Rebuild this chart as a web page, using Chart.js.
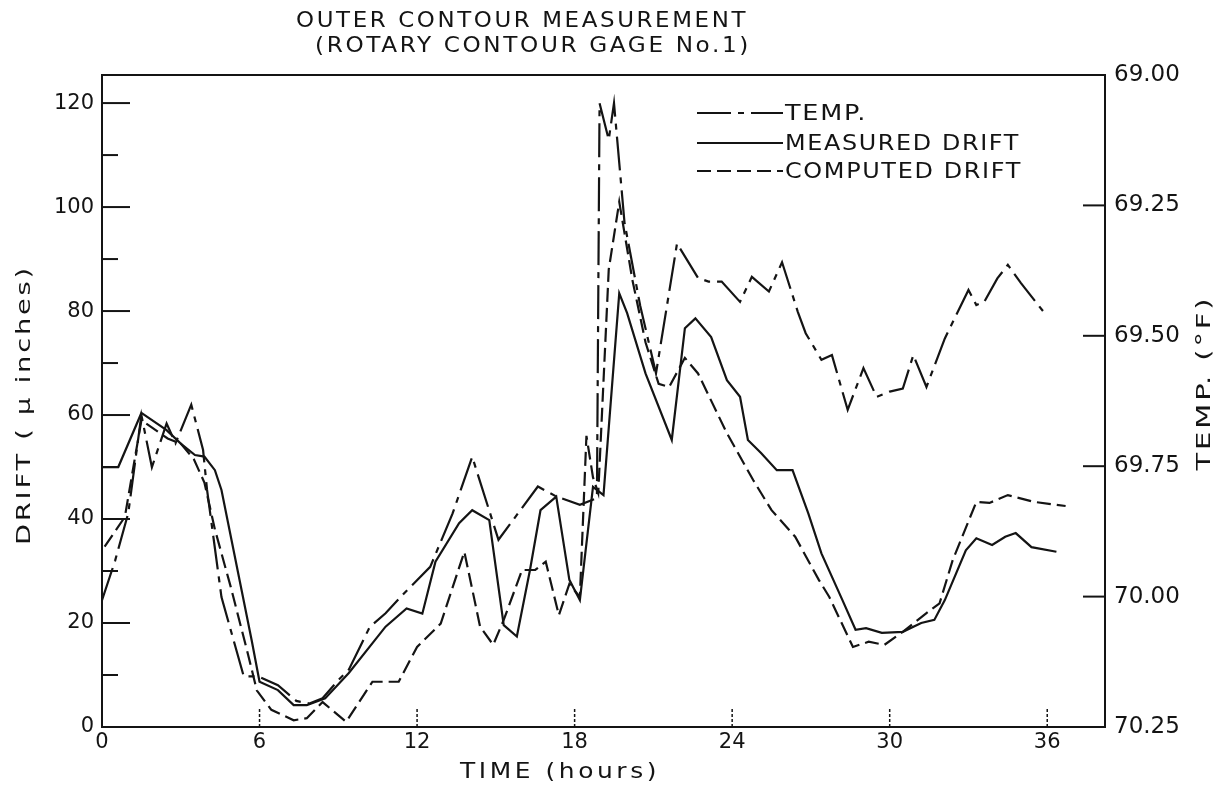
<!DOCTYPE html>
<html><head><meta charset="utf-8">
<style>html,body{margin:0;padding:0;background:#fff}#wrap{width:1226px;height:788px}</style>
<script src="https://cdn.jsdelivr.net/npm/chart.js@4.4.0/dist/chart.umd.min.js"></script>
</head><body><div id="wrap"><canvas id="c" width="1226" height="788"></canvas></div>
<script>
// ---- data ----
const tempHours = [0,0.5,1.0,1.5,1.9,2.46,2.8,3.4,3.85,4.0,4.55,5.4,5.95,6.7,7.4,7.9,8.4,9.0,9.4,10.2,10.8,11.5,12.5,13.35,14.1,15.1,16.6,17.3,18.2,18.85,18.95,19.3,19.5,19.9,20.5,21.1,21.9,22.7,23.1,23.6,24.3,24.75,25.4,25.9,26.5,26.8,27.4,27.8,28.4,29.0,29.5,30.0,30.5,30.9,31.4,32.1,33.0,33.3,33.6,34.1,34.5,35.0,36.0];
const tempF = [70.007,69.931,69.840,69.652,69.752,69.668,69.706,69.632,69.719,69.795,70.001,70.153,70.153,70.170,70.200,70.205,70.195,70.160,70.140,70.058,70.032,69.994,69.943,69.841,69.732,69.891,69.789,69.808,69.824,69.811,69.054,69.124,69.054,69.283,69.443,69.572,69.323,69.389,69.396,69.396,69.435,69.387,69.415,69.359,69.454,69.495,69.546,69.537,69.642,69.562,69.617,69.607,69.601,69.537,69.598,69.505,69.412,69.441,69.435,69.390,69.364,69.399,69.463];

const measuredHours = [0,0.62,1.5,2.46,3.0,3.54,3.9,4.3,4.55,5.7,6.0,6.7,7.3,7.8,8.5,9.4,10.8,11.6,12.2,12.7,13.6,14.1,14.75,15.3,15.8,16.3,16.7,17.3,17.8,18.2,18.7,19.1,19.7,20.0,20.7,21.7,22.2,22.6,23.2,23.8,24.3,24.6,25.1,25.7,26.3,26.9,27.4,28.2,28.7,29.1,29.7,30.5,31.2,31.7,32.1,32.9,33.3,33.9,34.4,34.8,35.4,36.35];
const measuredDrift = [50,50,60.4,57.1,54.5,52.3,52,49.4,45.6,16.7,8.7,7.1,4.2,4.2,5.5,10.4,19.3,22.8,21.8,31.8,39.2,41.7,39.8,19.6,17.4,30.2,41.7,44.3,28.3,24.4,46.2,44.6,83.4,79.6,68,55.2,76.7,78.6,75,66.7,63.5,55.2,52.7,49.4,49.4,41.1,33.4,24.4,18.7,19,18.1,18.3,20,20.6,24.4,34,36.3,35,36.6,37.3,34.6,33.7];

const computedHours = [0.1,0.87,1.5,2.5,3.0,3.5,3.9,4.3,4.9,5.55,5.9,6.45,7.3,7.8,8.4,9.3,10.3,11.3,12.0,12.9,13.8,14.4,14.9,15.3,16.0,16.5,16.9,17.4,17.8,18.2,18.45,18.7,18.9,19.3,19.7,20.2,20.7,21.2,21.6,22.2,22.7,23.8,24.8,25.5,26.4,27.3,27.7,28.6,29.2,29.8,30.5,31.4,31.9,32.4,33.3,33.8,34.5,35.5,36.7];
const computedDrift = [34.7,40.4,59,55.5,54.5,51.5,47,38,27,14.2,7,3.3,1.3,1.7,4.8,1,8.7,8.7,15.4,19.9,33.7,19.3,15.8,20.6,30.2,30.2,31.8,21.5,27.5,25,56,48,45,88,101,86,74,66,65.4,71,68,56.5,47.5,41.7,36.6,28.3,25,15.4,16.4,15.8,18.3,21.9,23.8,32.1,43.3,43.1,44.6,43.3,42.5];

const timeTicks = [0,6,12,18,24,30,36];
const driftTicks = [0,20,40,60,80,100,120];
const driftMinorTicks = [10,30,50,70,90,110];
const tempTicks = [69.00,69.25,69.50,69.75,70.00,70.25];

const seriesNames = ['TEMP.','MEASURED DRIFT','COMPUTED DRIFT'];
const chartTitle = ['OUTER CONTOUR MEASUREMENT','(ROTARY CONTOUR GAGE No.1)'];
const xTitle = 'TIME (hours)';
const yLeftTitle = 'DRIFT ( \u03BC inches)';
const yRightTitle = 'TEMP. (\u00B0F)';

// ---- styles ----
const INK = '#141414';
const FONT = '"DejaVu Sans", "Liberation Sans", sans-serif';
const dashTemp = [34,7,6,7];
const dashComputed = [14,6];

const toPts = (xs, ys) => xs.map((x,i)=>({x, y: ys[i]}));

// draw text scaled horizontally to a target width
function fitText(ctx, txt, x, y, width, size, align, spacing){
  ctx.font = size + 'px ' + FONT;
  ctx.letterSpacing = (spacing||0) + 'px';
  const w = ctx.measureText(txt).width;
  const s = width / w;
  ctx.save();
  ctx.translate(x, y); ctx.scale(s, 1);
  ctx.textAlign = align; ctx.textBaseline = 'middle';
  ctx.fillText(txt, 0, 0);
  ctx.restore();
  ctx.letterSpacing = '0px';
}

const decor = {
  id:'decor',
  afterDatasetsDraw(chart){
    const {ctx, chartArea:a, scales} = chart;
    ctx.save();
    ctx.strokeStyle = INK; ctx.fillStyle = INK; ctx.lineWidth = 2; ctx.setLineDash([]);
    ctx.strokeRect(a.left, a.top, a.right-a.left, a.bottom-a.top);
    const ln=(x1,y1,x2,y2)=>{ctx.beginPath();ctx.moveTo(x1,y1);ctx.lineTo(x2,y2);ctx.stroke();};
    driftTicks.forEach(v=>{ if(v>0){ const y=scales.yL.getPixelForValue(v); ln(a.left,y,a.left+28,y);} });
    driftMinorTicks.forEach(v=>{ const y=scales.yL.getPixelForValue(v); ln(a.left,y,a.left+16,y); });
    tempTicks.forEach(t=>{ const y=scales.yR.getPixelForValue(t); if(y>a.top+2 && y<a.bottom-2) ln(a.right,y,a.right-22,y); });
    ctx.lineWidth=1.5; ctx.setLineDash([3,2]);
    timeTicks.forEach(h=>{ if(h>0){ const x=scales.x.getPixelForValue(h); ln(x,a.bottom,x,a.bottom-20);} });
    ctx.setLineDash([]);

    // legend (inside plot, upper right)
    const legY = [113,143,171];
    const dashes = [dashTemp, [], dashComputed];
    const legW = [82,235,237];
    const lx0 = 697, lx1 = 783;
    legY.forEach((y,i)=>{
      ctx.lineWidth=2; ctx.setLineDash(dashes[i]);
      ln(lx0,y,lx1,y);
      ctx.setLineDash([]);
      fitText(ctx, seriesNames[i], lx1+2, y+1, legW[i], 22, 'left', 1.5);
    });

    // titles
    fitText(ctx, chartTitle[0], 522, 21, 452, 22, 'center', 2.5);
    fitText(ctx, chartTitle[1], 533, 46, 436, 22, 'center', 2.5);
    fitText(ctx, xTitle, 560, 773, 200, 21, 'center', 3);
    ctx.save(); ctx.translate(25, 405); ctx.rotate(-Math.PI/2);
    fitText(ctx, yLeftTitle, 0, 0, 280, 20, 'center', 2); ctx.restore();
    ctx.save(); ctx.translate(1205, 383); ctx.rotate(-Math.PI/2);
    fitText(ctx, yRightTitle, 0, 0, 175, 20, 'center', 2); ctx.restore();
    ctx.restore();
  }
};

new Chart(document.getElementById('c'), {
  type:'line',
  data:{ datasets:[
    {label:seriesNames[0], data:toPts(tempHours,tempF), yAxisID:'yR', borderDash:dashTemp},
    {label:seriesNames[1], data:toPts(measuredHours,measuredDrift), yAxisID:'yL', borderDash:[]},
    {label:seriesNames[2], data:toPts(computedHours,computedDrift), yAxisID:'yL', borderDash:dashComputed}
  ]},
  options:{
    responsive:false, animation:false, devicePixelRatio:1,
    layout:{padding:{top:75,left:0,right:0,bottom:0}},
    elements:{ line:{borderColor:INK, borderWidth:2.2, tension:0, fill:false}, point:{radius:0} },
    plugins:{ legend:{display:false}, title:{display:false}, tooltip:{enabled:false} },
    scales:{
      x:{ type:'linear', min:0, max:38.2,
        afterBuildTicks:s=>{ s.ticks = timeTicks.map(v=>({value:v})); },
        afterFit:s=>{ s.height = 61; },
        grid:{display:false, drawTicks:false}, border:{display:true, color:INK, width:2},
        ticks:{ color:INK, font:{family:FONT, size:21}, padding:3, maxRotation:0, autoSkip:false } },
      yL:{ type:'linear', position:'left', min:0, max:125.4,
        afterBuildTicks:s=>{ s.ticks = driftTicks.map(v=>({value:v})); },
        afterFit:s=>{ s.width = 102; },
        grid:{display:false, drawTicks:false}, border:{display:true, color:INK, width:2},
        ticks:{ color:INK, font:{family:FONT, size:21}, padding:8 } },
      yR:{ type:'linear', position:'right', min:69.00, max:70.25, reverse:true,
        afterBuildTicks:s=>{ s.ticks = tempTicks.map(v=>({value:v})); },
        afterFit:s=>{ s.width = 121; },
        grid:{display:false, drawTicks:false}, border:{display:true, color:INK, width:2},
        ticks:{ color:INK, font:{family:FONT, size:23}, padding:9, callback:v=>Number(v).toFixed(2) } }
    }
  },
  plugins:[decor]
});
</script></body></html>
